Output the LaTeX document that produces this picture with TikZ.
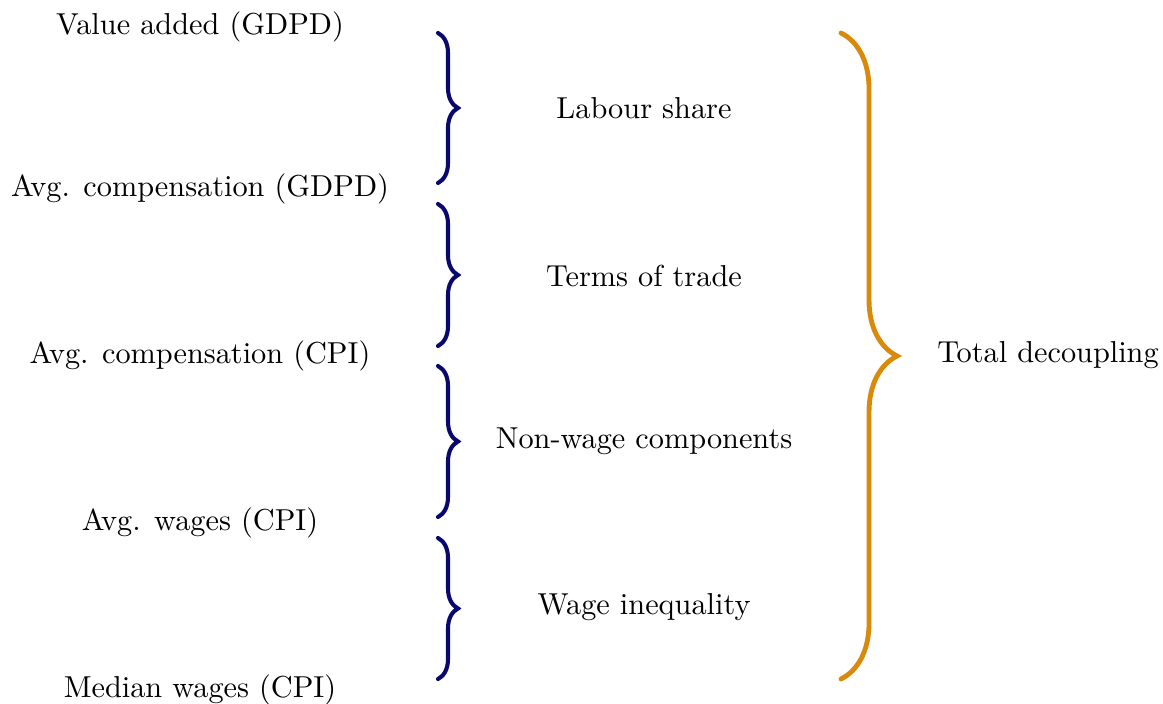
\documentclass[tikz,border=0pt]{standalone}
\usetikzlibrary{decorations.pathreplacing}
\definecolor{bracenavy}{RGB}{8,8,110}
\definecolor{braceorange}{RGB}{217,138,10}
\begin{document}
\begin{tikzpicture}[x=0.33pt, y=-0.33pt,
  series/.style={anchor=center, inner sep=0pt},
  part/.style={anchor=center, inner sep=0pt},
  bluebrace/.style={decorate, draw=bracenavy, line width=1.35pt, line cap=round,
    decoration={brace, amplitude=6.6pt}},
  orangebrace/.style={decorate, draw=braceorange, line width=1.6pt, line cap=round,
    decoration={brace, amplitude=18.5pt}}]
\useasboundingbox (0,0) rectangle (1163,704);
% Series
\node [series] (VA)  at (200,27)  {Value added (GDPD)};
\node [series] (ACG) at (200,189) {Avg. compensation (GDPD)};
\node [series] (ACC) at (200,356) {Avg. compensation (CPI)};
\node [series] (AW)  at (200,523) {Avg. wages (CPI)};
\node [series] (MW)  at (200,690) {Median wages (CPI)};
% Brace ends
\coordinate (b1s) at (438,33);  \coordinate (b1e) at (438,183);
\coordinate (b2s) at (438,204); \coordinate (b2e) at (438,346);
\coordinate (b3s) at (438,366); \coordinate (b3e) at (438,517);
\coordinate (b4s) at (438,538); \coordinate (b4e) at (438,679);
\coordinate (bts) at (841,33);  \coordinate (bte) at (841,679);
% Braces
\draw [bluebrace] (b1s) -- (b1e);
\draw [bluebrace] (b2s) -- (b2e);
\draw [bluebrace] (b3s) -- (b3e);
\draw [bluebrace] (b4s) -- (b4e);
\draw [orangebrace] (bts) -- (bte);
% Components
\node [part] (LS)  at (644,108) {Labour share};
\node [part] (TT)  at (644,276) {Terms of trade};
\node [part] (NW)  at (644,441) {Non-wage components};
\node [part] (WI)  at (644,607) {Wage inequality};
\node [part] (TD)  at (1048,355) {Total decoupling};
\end{tikzpicture}
\end{document}
